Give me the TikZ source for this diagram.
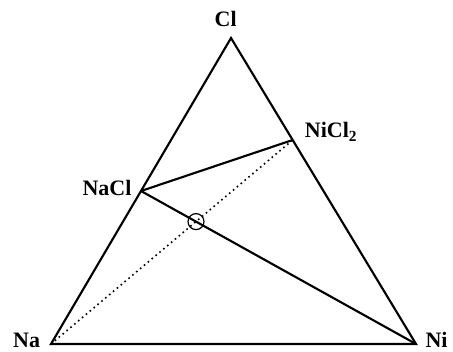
\documentclass[tikz,border=0pt]{standalone}
\usepackage{fontspec}
\setmainfont{Liberation Serif}
\usetikzlibrary{positioning,calc}

\begin{document}
\begin{tikzpicture}[
    x=0.75pt,y=-0.75pt,
    edge/.style={line width=1.6pt,line join=miter},
    tieline/.style={line width=1.2pt,dash pattern=on 1.2pt off 2.6pt},
    ring/.style={line width=0.9pt},
    lbl/.style={font=\fontsize{16.5}{18}\selectfont\bfseries,inner sep=0pt}
  ]
    \useasboundingbox (0,0) rectangle (453,351);
    % corners of the ternary diagram
    \coordinate (na) at (51,344);
    \coordinate (ni) at (416,344);
    \coordinate (cl) at (231,38);
    \coordinate (nacl) at ($(na)!0.5!(cl)$);
    \coordinate (nicl2) at ($(cl)!1/3!(ni)$);
    \coordinate (mix) at (intersection of nacl--ni and na--nicl2);
    \draw[edge] (na) -- (ni) -- (cl) -- cycle;
    \draw[edge] (nacl) -- (nicl2);
    \draw[edge] (nacl) -- (ni);
    \draw[tieline] (na) -- (nicl2);
    \draw[ring] (mix) circle[radius=6pt];
    % labels
    \node[lbl,left=8pt of na,yshift=3pt] (naL) {Na};
    \node[lbl,right=7pt of ni,yshift=3pt] (niL) {Ni};
    \node[lbl,above=8pt of cl,xshift=-4pt] (clL) {Cl};
    \node[lbl,left=7pt of nacl,yshift=2pt] (naclL) {NaCl};
    \node[lbl,right=9pt of nicl2,yshift=6pt] (nicl2L) {NiCl\textsubscript{2}};
  \end{tikzpicture}
\end{document}
